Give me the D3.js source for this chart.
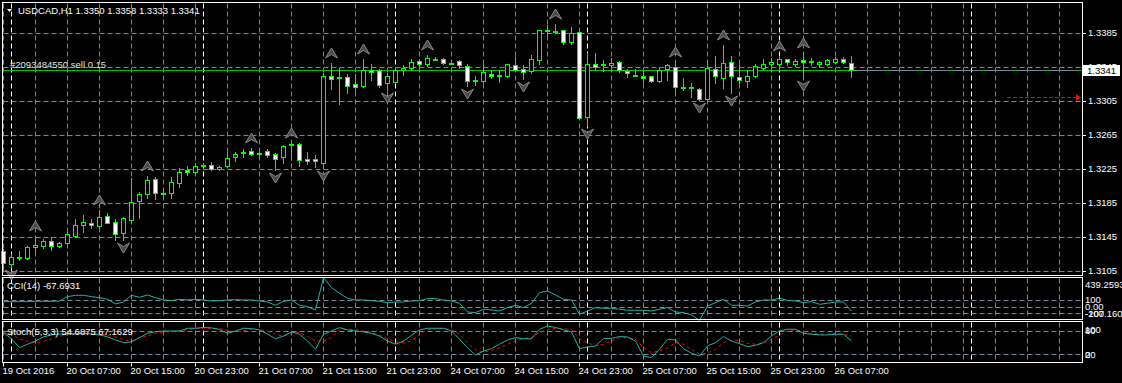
<!DOCTYPE html>
<html><head><meta charset="utf-8">
<script src="https://cdn.jsdelivr.net/npm/d3@7"></script>
<style>
body{margin:0;background:#000;}
svg{display:block;}
text{font-family:"Liberation Sans",Arial,sans-serif;font-size:9.5px;fill:#fff;}
</style>
</head><body>
<svg id="c" width="1122" height="383"></svg>
<script>
// ---------- data ----------
const headerText = "USDCAD,H1  1.3350 1.3358 1.3333 1.3341";
const orderText = "#2093484550 sell 0.15";
const orderPrice = 1.3341;
const lastPrice = 1.3341;
const alertPrice = 1.3310;

const opens = [1.3129,1.3113,1.3121,1.3120,1.3133,1.3135,1.3140,1.3134,1.3138,1.3146,
1.3159,1.3161,1.3158,1.3170,1.3163,1.3150,1.3165,1.3187,1.3196,1.3213,
1.3196,1.3197,1.3209,1.3224,1.3222,1.3229,1.3230,1.3225,1.3228,1.3239,
1.3244,1.3246,1.3243,1.3246,1.3243,1.3239,1.3254,1.3255,1.3237,1.3237,
1.3232,1.3335,1.3333,1.3333,1.3325,1.3323,1.3342,1.3341,1.3326,1.3327,
1.3341,1.3344,1.3352,1.3348,1.3355,1.3355,1.3350,1.3352,1.3346,1.3330,
1.3328,1.3337,1.3336,1.3334,1.3347,1.3343,1.3340,1.3353,1.3387,1.3387,
1.3388,1.3374,1.3386,1.3286,1.3349,1.3349,1.3347,1.3351,1.3340,1.3336,
1.3335,1.3334,1.3328,1.3343,1.3345,1.3321,1.3322,1.3319,1.3307,1.3343,
1.3332,1.3351,1.3333,1.3329,1.3334,1.3344,1.3348,1.3349,1.3354,1.3349,
1.3353,1.3352,1.3349,1.3348,1.3351,1.3354,1.3350];
const highs = [1.3131,1.3125,1.3128,1.3134,1.3146,1.3143,1.3145,1.3139,1.3151,1.3166,
1.3171,1.3166,1.3177,1.3173,1.3166,1.3169,1.3214,1.3198,1.3217,1.3216,
1.3202,1.3216,1.3226,1.3228,1.3232,1.3232,1.3233,1.3228,1.3245,1.3245,
1.3248,1.3250,1.3247,1.3248,1.3244,1.3253,1.3256,1.3256,1.3245,1.3242,
1.3338,1.3350,1.3344,1.3337,1.3337,1.3354,1.3349,1.3343,1.3338,1.3345,
1.3347,1.3354,1.3354,1.3359,1.3357,1.3356,1.3353,1.3353,1.3348,1.3335,
1.3350,1.3341,1.3342,1.3349,1.3357,1.3347,1.3359,1.3389,1.3395,1.3396,
1.3389,1.3392,1.3387,1.3361,1.3361,1.3353,1.3356,1.3352,1.3343,1.3343,
1.3340,1.3334,1.3345,1.3348,1.3351,1.3332,1.3326,1.3320,1.3353,1.3358,
1.3371,1.3358,1.3350,1.3341,1.3349,1.3354,1.3356,1.3358,1.3355,1.3354,
1.3361,1.3356,1.3352,1.3354,1.3357,1.3357,1.3358];
const lows = [1.3108,1.3110,1.3118,1.3119,1.3127,1.3132,1.3130,1.3133,1.3137,1.3145,
1.3151,1.3156,1.3157,1.3161,1.3142,1.3142,1.3164,1.3167,1.3191,1.3190,
1.3191,1.3191,1.3204,1.3218,1.3220,1.3225,1.3224,1.3224,1.3227,1.3235,
1.3239,1.3241,1.3241,1.3239,1.3224,1.3232,1.3236,1.3229,1.3231,1.3227,
1.3226,1.3319,1.3302,1.3314,1.3318,1.3321,1.3330,1.3321,1.3318,1.3326,
1.3336,1.3341,1.3341,1.3346,1.3353,1.3348,1.3348,1.3344,1.3323,1.3324,
1.3326,1.3332,1.3327,1.3333,1.3340,1.3331,1.3338,1.3349,1.3382,1.3385,
1.3372,1.3372,1.3284,1.3276,1.3341,1.3340,1.3341,1.3339,1.3333,1.3334,
1.3327,1.3327,1.3327,1.3330,1.3317,1.3318,1.3310,1.3306,1.3306,1.3326,
1.3320,1.3315,1.3324,1.3322,1.3333,1.3341,1.3341,1.3341,1.3347,1.3346,
1.3332,1.3347,1.3345,1.3347,1.3350,1.3350,1.3333];
const closes = [1.3114,1.3121,1.3122,1.3133,1.3136,1.3140,1.3135,1.3138,1.3148,1.3159,
1.3163,1.3159,1.3169,1.3162,1.3149,1.3167,1.3186,1.3196,1.3212,1.3197,
1.3197,1.3210,1.3222,1.3221,1.3229,1.3230,1.3225,1.3227,1.3238,1.3243,
1.3245,1.3243,1.3244,1.3241,1.3237,1.3252,1.3255,1.3236,1.3234,1.3234,
1.3335,1.3331,1.3333,1.3323,1.3322,1.3341,1.3339,1.3324,1.3335,1.3342,
1.3344,1.3351,1.3349,1.3356,1.3355,1.3350,1.3350,1.3347,1.3329,1.3330,
1.3339,1.3335,1.3336,1.3348,1.3342,1.3339,1.3354,1.3388,1.3388,1.3387,
1.3374,1.3385,1.3285,1.3349,1.3345,1.3347,1.3350,1.3341,1.3338,1.3336,
1.3332,1.3328,1.3342,1.3347,1.3322,1.3321,1.3320,1.3307,1.3344,1.3334,
1.3350,1.3334,1.3330,1.3335,1.3346,1.3349,1.3351,1.3354,1.3351,1.3352,
1.3351,1.3352,1.3351,1.3353,1.3354,1.3351,1.3341];

const cciValues = [75,75,75,75,80,80,80,85,150,170,
170,150,135,110,40,70,170,140,175,135,
100,90,110,100,110,100,85,90,100,105,
100,100,85,70,20,80,100,20,0,-50,
439.2593,286,200,125,100,100,90,80,60,70,
70,85,90,120,120,100,85,50,-80,-90,
-40,-50,-65,-15,20,-15,50,210,235,175,
110,100,-115,-65,-15,-25,-25,-40,-55,-55,
-55,-65,-40,-15,-80,-90,-125,-207.16,10,60,
110,20,20,10,70,100,100,125,95,85,
60,75,35,50,70,70,-67.6931];

const stochMain = [76,60,37,46,54,65,70,72,72,73,
74,72,70,65,57,50,52,63,74,78,
80,80,80,87,87,89,88,84,74,80,
87,86,83,72,60,67,
77.6,71.6,54.4,33,71.6,80,88.7,83,80,77.6,
74,67,54,46,54,69,83,87,87,87,
80,59,37,18,28.6,34.6,46,57,63,60,
60,84,93,89,83,77.6,
34.6,39,41.5,61,61,65.6,64.7,54,15.7,11.5,
33,58.7,57,34.6,22.6,15.7,41.5,50,65.6,54,
47.5,39.8,43.2,50,67.3,80,84.5,84.5,74,71.6,
69.9,69.9,71.6,71.6,54.6875];

const stochSignal = [75,72,59,54,50,53,60,66,71,73,
73,73,72,69,64,57,54,63,67,74,
78,78,80,83,86,87,87,86,82,78,
80,84,84,80,72,66,
74,76,66,54,54,63,83,84,84,80,
76,69,60,52,50,54,72,84,86,86,
83,72,50,31,26,29,37,46,54,61,
63,76,84,87,86,84,
60,50,41.5,46,54,63,63,59,37,24,
29,37,50,46,33,20,23,33,50,56,
56,48,46,48,59,69,80,83,78,74,
72,72,73,72,67.1629];

const upFractals = [4,12,18,31,36,41,45,53,69,84,90,97,100];
const downFractals = [1,15,34,40,48,58,65,73,87,91,100];

const priceTicks = [1.3385,1.3345,1.3305,1.3265,1.3225,1.3185,1.3145,1.3105];
const priceTickLabels = ["1.3385","1.3345","1.3305","1.3265","1.3225","1.3185","1.3145","1.3105"];
const timeTickBars = [0,8,16,24,32,40,48,56,64,72,80,88,96,104];
const timeTickLabels = ["19 Oct 2016","20 Oct 07:00","20 Oct 15:00","20 Oct 23:00","21 Oct 07:00",
  "21 Oct 15:00","21 Oct 23:00","24 Oct 07:00","24 Oct 15:00","24 Oct 23:00","25 Oct 07:00",
  "25 Oct 15:00","25 Oct 23:00","26 Oct 07:00"];
const daySeparatorBars = [1,25,49,73,97,121];
const cciLevels = [100,0,-100];
const cciAxisValues = [439.2593,100,0,-100,-207.16];
const cciAxisLabels = ["439.2593","100","0.00","-100","-207.160"];
const stochLevels = [80,20];
const stochAxisValues = [100,80,20,0];
const stochAxisLabels = ["100","80","20","0"];
const cciTitle = "CCI(14) -67.6931";
const stochTitle = "Stoch(5,3,3) 54.6875 67.1629";

// ---------- layout ----------
const svg = d3.select("#c");
const L = 2.5, R = 1082.5;
const P = {
  main:{top:2.5,bottom:275.5},
  cci:{top:277.5,bottom:319.5},
  st:{top:321.5,bottom:362.5}
};
const n = opens.length;
const x = d3.scaleLinear().domain([0,1]).range([3.5,11.5]);
const y = d3.scaleLinear().domain([1.3105,1.3385]).range([271,33]);
const yC = d3.scaleLinear().domain(d3.extent(cciValues)).range([320.4,277.4]);
const yS = d3.scaleLinear().domain([0,100]).range([362.1,323.2]);
const crisp = v => Math.round(v)+0.5;
const gridColor = "#778899";
const dash = "5,3";

svg.append("rect").attr("width",1122).attr("height",383).attr("fill","#000");

// vertical grid & separators per panel
const gridBars = d3.range(0,134,4);
Object.values(P).forEach(p=>{
  const g = svg.append("g");
  g.selectAll("line.v").data(gridBars).join("line")
    .attr("x1",d=>x(d)).attr("x2",d=>x(d))
    .attr("y1",p.top+1).attr("y2",p.bottom-1)
    .attr("stroke",gridColor).attr("stroke-dasharray",dash);
  g.selectAll("line.s").data(daySeparatorBars).join("line")
    .attr("x1",d=>x(d)).attr("x2",d=>x(d))
    .attr("y1",p.top+1).attr("y2",p.bottom-1)
    .attr("stroke","#fff").attr("stroke-dasharray",dash);
});

// horizontal grids
svg.append("g").selectAll("line").data(priceTicks).join("line")
  .attr("x1",L+1).attr("x2",R-1).attr("y1",d=>crisp(y(d))).attr("y2",d=>crisp(y(d)))
  .attr("stroke",gridColor).attr("stroke-dasharray",dash);
svg.append("g").selectAll("line").data(cciLevels).join("line")
  .attr("x1",L+1).attr("x2",R-1).attr("y1",d=>crisp(yC(d))).attr("y2",d=>crisp(yC(d)))
  .attr("stroke",gridColor).attr("stroke-dasharray",dash);
svg.append("g").selectAll("line").data(stochLevels).join("line")
  .attr("x1",L+1).attr("x2",R-1).attr("y1",d=>crisp(yS(d))).attr("y2",d=>crisp(yS(d)))
  .attr("stroke",gridColor).attr("stroke-dasharray",dash);

// order / bid line
const oy = crisp(y(orderPrice));
svg.append("line").attr("x1",L+1).attr("x2",R-1).attr("y1",oy).attr("y2",oy).attr("stroke",gridColor);
svg.append("line").attr("x1",L+1).attr("x2",x(n-1)+2).attr("y1",oy).attr("y2",oy).attr("stroke","#00c800");
svg.append("line").attr("x1",x(n-1)+2).attr("x2",R-1).attr("y1",oy).attr("y2",oy)
  .attr("stroke","#00c800").attr("stroke-dasharray","3,29");
svg.append("text").attr("x",10).attr("y",oy-3).style("fill","#e4e4e4").text(orderText);

// red alert arrow line
const ay = crisp(y(alertPrice));
svg.append("line").attr("x1",1007).attr("x2",1077).attr("y1",ay).attr("y2",ay)
  .attr("stroke","#e01010").attr("stroke-dasharray","4,2");
svg.append("path").attr("d",`M1076,${ay-3.5}L1081,${ay}L1076,${ay+3.5}Z`).attr("fill","#e01010");

// candles
const idx = d3.range(n);
const cg = svg.append("g");
cg.selectAll("line").data(idx).join("line")
  .attr("x1",k=>x(k)).attr("x2",k=>x(k))
  .attr("y1",k=>Math.round(y(highs[k]))).attr("y2",k=>Math.round(y(lows[k]))+1)
  .attr("stroke","#00ff00");
cg.selectAll("rect").data(idx).join("rect")
  .attr("x",k=>x(k)-2).attr("width",4)
  .attr("y",k=>Math.round(y(Math.max(opens[k],closes[k])))+0.5)
  .attr("height",k=>Math.max(1,Math.round(y(Math.min(opens[k],closes[k])))-Math.round(y(Math.max(opens[k],closes[k])))))
  .attr("fill",k=>closes[k]>=opens[k]?"#000":"#fff")
  .attr("stroke","#00ff00");

// fractals
const upPath = "M0,-5L6,5L0,1.5L-6,5Z";
const downPath = "M0,5L6,-5L0,-1.5L-6,-5Z";
svg.append("g").selectAll("path").data(upFractals).join("path")
  .attr("d",upPath).attr("transform",k=>`translate(${x(k)},${Math.round(y(highs[k]))-10})`)
  .attr("fill","#4a4a4a").attr("stroke","#8a8a8a").attr("stroke-width",1);
svg.append("g").selectAll("path").data(downFractals).join("path")
  .attr("d",downPath).attr("transform",k=>`translate(${x(k)},${Math.round(y(lows[k]))+8})`)
  .attr("fill","#4a4a4a").attr("stroke","#8a8a8a").attr("stroke-width",1);

// indicator lines
svg.append("path").datum(cciValues)
  .attr("d",d3.line().x((d,i)=>x(i)).y(d=>yC(d)))
  .attr("fill","none").attr("stroke","#20b2aa");
svg.append("path").datum(stochSignal)
  .attr("d",d3.line().x((d,i)=>x(i)).y(d=>yS(d)))
  .attr("fill","none").attr("stroke","#ff0000").attr("stroke-dasharray","3,3");
svg.append("path").datum(stochMain)
  .attr("d",d3.line().x((d,i)=>x(i)).y(d=>yS(d)))
  .attr("fill","none").attr("stroke","#20b2aa");

// panel borders
Object.values(P).forEach(p=>{
  svg.append("rect").attr("x",L).attr("y",p.top).attr("width",R-L).attr("height",p.bottom-p.top)
    .attr("fill","none").attr("stroke","#fff");
});

// header
svg.append("path").attr("d","M7,9L12,9L9.5,12Z").attr("fill","#fff");
svg.append("text").attr("x",18).attr("y",10.5).attr("dy","0.35em").text(headerText);
svg.append("text").attr("x",7).attr("y",285.5).attr("dy","0.35em").text(cciTitle);
svg.append("text").attr("x",7).attr("y",332).attr("dy","0.35em").text(stochTitle);

// right price axis
const ax = svg.append("g");
ax.selectAll("line").data(priceTicks).join("line")
  .attr("x1",R).attr("x2",R+3.5).attr("y1",d=>crisp(y(d))).attr("y2",d=>crisp(y(d))).attr("stroke","#fff");
ax.selectAll("text").data(priceTicks).join("text")
  .attr("x",1088).attr("y",d=>y(d)).attr("dy","0.35em").text((d,i)=>priceTickLabels[i]);
svg.append("rect").attr("x",1083).attr("y",Math.round(y(lastPrice))-5).attr("width",37).attr("height",11).attr("fill","#fff");
svg.append("text").attr("x",1087).attr("y",Math.round(y(lastPrice))+0.5).attr("dy","0.35em")
  .style("fill","#000").text(d3.format(".4f")(lastPrice));

// indicator axes
const clamp = (v,a,b)=>Math.max(a,Math.min(b,v));
svg.append("g").selectAll("text").data(cciAxisValues).join("text")
  .attr("x",1085).attr("y",d=>clamp(yC(d),P.cci.top+7.5,P.cci.bottom-6)).attr("dy","0.35em")
  .text((d,i)=>cciAxisLabels[i]);
svg.append("g").selectAll("text").data(stochAxisValues).join("text")
  .attr("x",1085).attr("y",d=>clamp(yS(d),P.st.top+8,P.st.bottom-8)).attr("dy","0.35em")
  .text((d,i)=>stochAxisLabels[i]);

// time axis
const tg = svg.append("g");
tg.selectAll("line").data(timeTickBars).join("line")
  .attr("x1",k=>x(k)).attr("x2",k=>x(k)).attr("y1",P.st.bottom).attr("y2",P.st.bottom+4).attr("stroke","#fff");
tg.selectAll("text").data(timeTickBars).join("text")
  .attr("x",k=>x(k)-1).attr("y",371).attr("dy","0.35em").text((k,i)=>timeTickLabels[i]);
</script>
</body></html>
